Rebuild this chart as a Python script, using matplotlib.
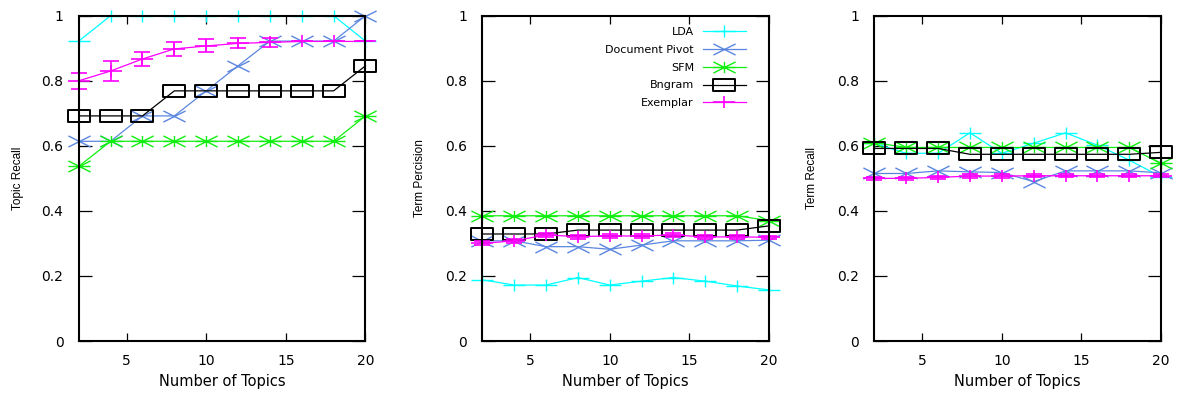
import numpy as np
import matplotlib
matplotlib.use("Agg")
import matplotlib.pyplot as plt
from matplotlib.path import Path

topics = [2, 4, 6, 8, 10, 12, 14, 16, 18, 20]
methods = ["LDA", "Document Pivot", "SFM", "Bngram", "Exemplar"]
ylabels = ["Topic Recall", "Term Percision", "Term Recall"]
xticks = [5, 10, 15, 20]
yticks = [0, 0.2, 0.4, 0.6, 0.8, 1]
ytick_labels = ["0", "0.2", "0.4", "0.6", "0.8", "1"]

# topic recall
tr_lda = [0.922, 1, 1, 1, 1, 1, 1, 1, 1, 0.922]
tr_dp = [0.614, 0.614, 0.692, 0.692, 0.769, 0.846, 0.922, 0.922, 0.922, 1.0]
tr_sfm = [0.537, 0.614, 0.614, 0.614, 0.614, 0.614, 0.614, 0.614, 0.614, 0.692]
tr_bng = [0.692, 0.692, 0.692, 0.769, 0.769, 0.769, 0.769, 0.769, 0.769, 0.846]
tr_ex = [0.800, 0.830, 0.867, 0.898, 0.907, 0.915, 0.918, 0.921, 0.921, 0.921]
tr_ex_err = [0.025, 0.03, 0.022, 0.022, 0.02, 0.015, 0.015, 0.0, 0.0, 0.0]

# term precision
tp_lda = [0.188, 0.172, 0.172, 0.195, 0.172, 0.184, 0.195, 0.184, 0.169, 0.157]
tp_dp = [0.308, 0.308, 0.290, 0.290, 0.282, 0.295, 0.308, 0.308, 0.308, 0.310]
tp_sfm = [0.385, 0.385, 0.385, 0.385, 0.385, 0.385, 0.385, 0.385, 0.385, 0.370]
tp_bng = [0.329, 0.329, 0.329, 0.341, 0.341, 0.341, 0.341, 0.341, 0.341, 0.354]
tp_ex = [0.300, 0.308, 0.326, 0.321, 0.323, 0.323, 0.326, 0.320, 0.320, 0.319]
tp_ex_err = [0.006, 0.006, 0.006, 0.006, 0.006, 0.006, 0.006, 0.006, 0.006, 0.004]

# term recall
tc_lda = [0.608, 0.577, 0.577, 0.640, 0.577, 0.608, 0.640, 0.602, 0.556, 0.505]
tc_dp = [0.515, 0.515, 0.523, 0.520, 0.518, 0.490, 0.523, 0.523, 0.523, 0.517]
tc_sfm = [0.610, 0.595, 0.595, 0.595, 0.595, 0.595, 0.595, 0.595, 0.595, 0.546]
tc_bng = [0.592, 0.592, 0.592, 0.574, 0.574, 0.574, 0.574, 0.574, 0.574, 0.580]
tc_ex = [0.500, 0.500, 0.503, 0.507, 0.507, 0.508, 0.508, 0.508, 0.508, 0.508]
tc_ex_err = [0.005, 0.005, 0.005, 0.005, 0.005, 0.005, 0.005, 0.005, 0.005, 0.004]

panels = [(tr_lda, tr_dp, tr_sfm, tr_bng, tr_ex, tr_ex_err),
          (tp_lda, tp_dp, tp_sfm, tp_bng, tp_ex, tp_ex_err),
          (tc_lda, tc_dp, tc_sfm, tc_bng, tc_ex, tc_ex_err)]

# gnuplot-ish markers, stretched sideways like the reference
M, L, C = Path.MOVETO, Path.LINETO, Path.CLOSEPOLY
plus = Path([(-1, 0), (1, 0), (0, -.5), (0, .5)], [M, L, M, L])
cross = Path([(-1, -.5), (1, .5), (-1, .5), (1, -.5)], [M, L, M, L])
star = Path([(-1, 0), (1, 0), (0, -.5), (0, .5), (-1, -.5), (1, .5), (-1, .5), (1, -.5)],
            [M, L, M, L, M, L, M, L])
box = Path([(-1, -.55), (1, -.55), (1, .55), (-1, .55), (-1, -.55)], [M, L, L, L, C])

colors = ["#00ffff", "#5a86e0", "#11ee11", "#000000", "#ff00ff"]
marks = [plus, cross, star, box, plus]
mews = [1.0, 1.0, 1.0, 1.4, 1.2]

fig = plt.figure(figsize=(11.79, 3.93), dpi=100)
lefts = [0.0668, 0.4091, 0.7416]
ylab_x = [-0.191, -0.196, -0.197]
for k, (left, data) in enumerate(zip(lefts, panels)):
    ax = fig.add_axes([left, 0.1323, 0.2432, 0.8277])
    series = data[:5]; err = data[5]
    for name, ys, c, m, mw in zip(methods, series, colors, marks, mews):
        ax.plot(topics, ys, color=c, lw=0.9, marker=m, ms=16, mew=mw, mfc="none",
                mec=c, clip_on=False, label=name)
    ax.errorbar(topics, series[4], yerr=err, fmt="none", ecolor=colors[4], elinewidth=1.2,
                capsize=6, capthick=1.2, clip_on=False)
    ax.set_xlim(2, 20); ax.set_ylim(0, 1)
    ax.set_xticks(xticks); ax.set_yticks(yticks); ax.set_yticklabels(ytick_labels)
    ax.tick_params(axis="both", direction="in", top=True, right=True, width=0.9,
                   labelsize=10, pad=11, colors="black")
    ax.tick_params(axis="y", length=9.5)
    ax.tick_params(axis="x", length=6, pad=9)
    for s in ax.spines.values():
        s.set_linewidth(1.5)
    ax.set_xlabel("Number of Topics", fontsize=10.5)
    ax.xaxis.set_label_coords(0.5, -0.1)
    ax.set_ylabel(ylabels[k], fontsize=8.5, family="Liberation Sans")
    ax.yaxis.set_label_coords(ylab_x[k], 0.5)
    if k == 1:
        ax.legend(loc="upper right", bbox_to_anchor=(0.92, 0.965), frameon=False,
                  markerfirst=False, fontsize=8, handlelength=3.9, numpoints=1,
                  borderpad=0, borderaxespad=0, labelspacing=0.7, handletextpad=0.8)

fig.savefig("out.png", dpi=100)
